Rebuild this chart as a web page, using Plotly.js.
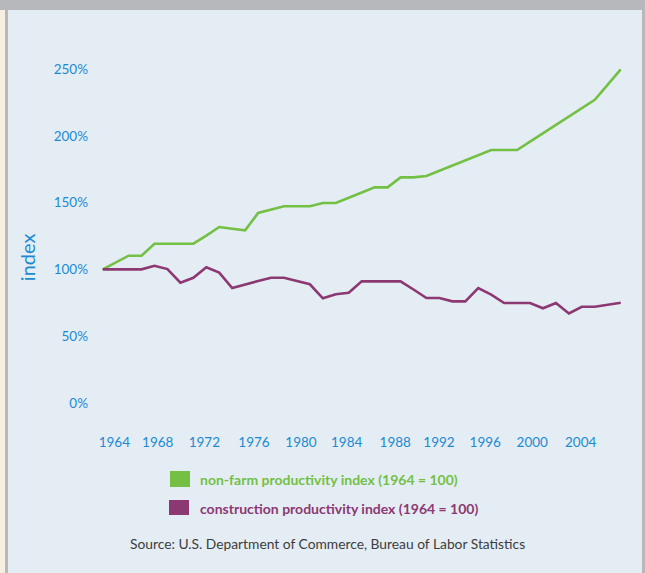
<!DOCTYPE html>
<html>
<head>
<meta charset="utf-8">
<script src="https://cdn.plot.ly/plotly-3.0.1.min.js"></script>
<style>
  html, body { margin: 0; padding: 0; width: 645px; height: 573px; overflow: hidden; background: #b7b8bb; }
  #beige { position: absolute; left: 0; top: 10px; width: 5px; height: 563px; background: #f7f0e2; }
  #chart { position: absolute; left: 8px; top: 10px; width: 634px; height: 563px; }
</style>
</head>
<body>
<div id="beige"></div>
<div id="chart"></div>
<script>
// Years 1964..2004
const years = [1964,1965,1966,1967,1968,1969,1970,1971,1972,1973,1974,1975,1976,1977,1978,1979,1980,1981,1982,1983,1984,1985,1986,1987,1988,1989,1990,1991,1992,1993,1994,1995,1996,1997,1998,1999,2000,2001,2002,2003,2004];
const nonFarm = [100,105.2,110.2,110.2,119.2,119.2,119.2,119.2,125.2,131.7,130.4,129.2,142.2,144.6,147.2,147.2,147.2,149.7,149.7,153.6,157.5,161.4,161.4,168.9,168.9,169.9,173.8,177.7,181.6,185.5,189.4,189.4,189.4,195.7,202,208.2,214.5,220.7,227,238.4,249.8];
const construction = [100,100,100,100,102.7,100.2,90,93.7,101.5,97.5,86,88.8,91.2,93.7,93.7,91.2,88.8,78.3,81.3,82.5,91,91,91,91,84.9,78.5,78.5,76,76,86,81,74.8,74.8,74.8,70.8,74.8,67,72,72,73.5,75];
const seriesNames = ["non-farm productivity index (1964 = 100)", "construction productivity index (1964 = 100)"];
const tickLabels = ["1964","1968","1972","1976","1980","1984","1988","1992","1996","2000","2004"];
const yTicks = [0,50,100,150,200,250];
const yTickLabels = ["0%","50%","100%","150%","200%","250%"];
const yTitle = "index";
const sourceText = "Source: U.S. Department of Commerce, Bureau of Labor Statistics";

// layout-only: where the designer placed the year labels along the axis
const xTickPos = [1964.9,1968.25,1971.85,1975.68,1979.31,1982.84,1986.59,1989.97,1993.54,1997.17,2000.91];

const green = "#73c044";
const purple = "#8c3872";
const blue = "#1b8ad3";

const traces = [
  {x: years, y: nonFarm, name: seriesNames[0], type: "scatter", mode: "lines",
   line: {color: green, width: 2.6}},
  {x: years, y: construction, name: seriesNames[1], type: "scatter", mode: "lines",
   line: {color: purple, width: 2.6}}
];

const layout = {
  width: 634, height: 563,
  margin: {l: 87, r: 12, t: 50, b: 148},
  paper_bgcolor: "#e4edf4",
  plot_bgcolor: "#e4edf4",
  showlegend: false,
  font: {family: "Lato, 'Open Sans', sans-serif", color: blue},
  xaxis: {
    range: [1963.405, 2004.718],
    tickvals: xTickPos, ticktext: tickLabels,
    showgrid: false, zeroline: false, showline: false, ticks: "",
    tickfont: {size: 13.5, color: blue},
    ticklabelstandoff: 7
  },
  yaxis: {
    range: [-16.6, 256.8],
    tickvals: yTicks, ticktext: yTickLabels,
    showgrid: false, zeroline: false, showline: false, ticks: "",
    tickfont: {size: 13.5, color: blue},
    ticklabelstandoff: 6
  },
  shapes: [
    {type: "rect", xref: "paper", yref: "paper", x0: 0.1402, x1: 0.1776, y0: -0.1699, y1: -0.126,
     fillcolor: green, line: {width: 0}},
    {type: "rect", xref: "paper", yref: "paper", x0: 0.1383, x1: 0.1757, y0: -0.2466, y1: -0.2055,
     fillcolor: purple, line: {width: 0}}
  ],
  annotations: [
    {text: yTitle, xref: "paper", yref: "paper", x: -0.127, y: 0.46, textangle: -90,
     showarrow: false, xanchor: "center", yanchor: "middle",
     font: {size: 20, color: blue}},
    {text: "<b>" + seriesNames[0] + "</b>", xref: "paper", yref: "paper", x: 0.1925, y: -0.148,
     showarrow: false, xanchor: "left", yanchor: "middle", font: {size: 14, color: green}},
    {text: "<b>" + seriesNames[1] + "</b>", xref: "paper", yref: "paper", x: 0.1925, y: -0.2274,
     showarrow: false, xanchor: "left", yanchor: "middle", font: {size: 14, color: purple}},
    {text: sourceText, xref: "paper", yref: "paper", x: 0.4355, y: -0.3233,
     showarrow: false, xanchor: "center", yanchor: "middle", font: {size: 13.8, color: "#3c3c3c"}}
  ]
};

Plotly.newPlot("chart", traces, layout, {displayModeBar: false, staticPlot: true});
</script>
</body>
</html>
